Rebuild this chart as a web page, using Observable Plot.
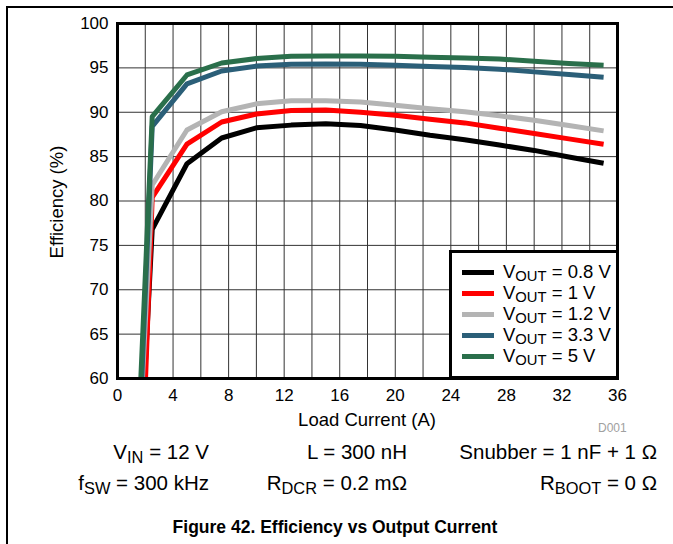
<!DOCTYPE html>
<html><head><meta charset="utf-8">
<script src="https://cdn.jsdelivr.net/npm/d3@7"></script>
<script src="https://cdn.jsdelivr.net/npm/@observablehq/plot@0.6"></script>
<style>
body{margin:0;background:#fff;font-family:"Liberation Sans",Arial,sans-serif;}
#wrap{position:relative;width:673px;height:544px;overflow:hidden;background:#fff;}
#border{position:absolute;left:6px;top:6px;width:700px;height:600px;border-left:2px solid #000;border-top:2px solid #000;}
.t{position:absolute;font-size:17px;color:#000;white-space:nowrap;line-height:1;}
.r{transform:translateY(-50%);font-size:20.5px;}
sub{font-size:0.8em;vertical-align:-0.25em;line-height:0;}
#legend{position:absolute;left:449px;top:250px;width:170px;height:129px;box-sizing:border-box;border:3px solid #000;background:#fff;}
.sw{position:absolute;left:10px;width:32px;height:5px;}
.lt{position:absolute;left:51px;font-size:18.5px;white-space:nowrap;line-height:1;transform:translateY(-50%);}
</style></head><body>
<div id="wrap"><div id="border"></div></div>
<script>
// Data
const current = [2.5, 5, 7.5, 10, 12.5, 15, 17.5, 20, 22.5, 25, 27.5, 30, 32.5, 35];
const eff08 = [76.8, 84.2, 87.1, 88.25, 88.55, 88.7, 88.5, 88.0, 87.4, 86.9, 86.3, 85.7, 84.95, 84.25];
const eff1  = [80.4, 86.4, 88.9, 89.8, 90.2, 90.25, 90.0, 89.65, 89.2, 88.8, 88.2, 87.6, 87.0, 86.4];
const eff12 = [81.8, 88.0, 90.05, 90.95, 91.3, 91.3, 91.15, 90.8, 90.4, 90.05, 89.6, 89.1, 88.5, 87.9];
const eff33 = [88.4, 93.2, 94.65, 95.2, 95.4, 95.45, 95.4, 95.3, 95.15, 95.05, 94.85, 94.55, 94.25, 93.95];
const eff5  = [89.5, 94.2, 95.55, 96.05, 96.3, 96.35, 96.35, 96.3, 96.2, 96.1, 96.0, 95.75, 95.5, 95.3];
// current at which each curve enters from the 60% bottom edge
const onsetCurrent = [1.95, 2.02, 1.8, 1.75, 1.68];
const onsetEff = 60;
const seriesNames = ["0.8 V", "1 V", "1.2 V", "3.3 V", "5 V"];
const seriesColors = ["#000000", "#ff0000", "#b4b4b4", "#2b5f78", "#2a6f4b"];
const seriesValues = [eff08, eff1, eff12, eff33, eff5];
const xTicks = [0, 4, 8, 12, 16, 20, 24, 28, 32, 36];
const xGrid = [0, 2, 4, 6, 8, 10, 12, 14, 16, 18, 20, 22, 24, 26, 28, 30, 32, 34, 36];
const yTicks = [60, 65, 70, 75, 80, 85, 90, 95, 100];

const seriesRows = seriesValues.map((vals, i) =>
  [{current: onsetCurrent[i], eff: onsetEff}].concat(current.map((c, j) => ({current: c, eff: vals[j]}))));

const plot = Plot.plot({
  width: 673, height: 440,
  marginLeft: 117, marginRight: 56, marginTop: 23, marginBottom: 62,
  style: {fontFamily: "Liberation Sans, Arial, sans-serif", fontSize: "17px", background: "transparent", color: "#000", overflow: "visible"},
  x: {domain: [0, 36]},
  y: {domain: [60, 100]},
  marks: [
    Plot.gridX(xGrid, {stroke: "#333", strokeOpacity: 1, strokeWidth: 1}),
    Plot.gridY(yTicks, {stroke: "#333", strokeOpacity: 1, strokeWidth: 1}),
    ...seriesRows.map((rows, i) => Plot.line(rows, {x: "current", y: "eff", stroke: seriesColors[i], strokeWidth: 5, strokeLinejoin: "round", strokeLinecap: "butt", clip: true})),
    Plot.frame({stroke: "#000", strokeWidth: 3}),
    Plot.axisX(xTicks, {tickSize: 0, tickPadding: 10, label: null, fontSize: 17}),
    Plot.axisY(yTicks, {tickSize: 0, tickPadding: 9, label: null, fontSize: 17})
  ]
});
const wrap = document.getElementById("wrap");
plot.style.position = "absolute";
plot.style.left = "0px";
plot.style.top = "0px";
wrap.appendChild(plot);

function addText(html, css, cls) {
  const d = document.createElement("div");
  d.className = "t " + (cls || "");
  d.innerHTML = html;
  Object.assign(d.style, css);
  wrap.appendChild(d);
  return d;
}
addText("Efficiency (%)", {left: "57px", top: "202px", transform: "translate(-50%,-50%) rotate(-90deg)", fontSize: "18.5px"});
addText("Load Current (A)", {left: "367px", top: "420px", transform: "translate(-50%,-50%)", fontSize: "18.5px"});
addText("D001", {left: "598px", top: "428px", transform: "translateY(-50%)", fontSize: "12px", color: "#a0a0a0"});

addText("V<sub>IN</sub> = 12 V", {right: (673 - 209) + "px", top: "452px"}, "r");
addText("L = 300 nH", {right: (673 - 407) + "px", top: "452px"}, "r");
addText("Snubber = 1 nF + 1 Ω", {right: (673 - 657) + "px", top: "452px"}, "r");
addText("f<sub>SW</sub> = 300 kHz", {right: (673 - 209) + "px", top: "483px"}, "r");
addText("R<sub>DCR</sub> = 0.2 mΩ", {right: (673 - 407) + "px", top: "483px"}, "r");
addText("R<sub>BOOT</sub> = 0 Ω", {right: (673 - 657) + "px", top: "483px"}, "r");
addText("Figure 42. Efficiency vs Output Current", {left: "335px", top: "528px", transform: "translate(-50%,-50%)", fontWeight: "bold", fontSize: "17.5px"});

const legend = document.createElement("div");
legend.id = "legend";
wrap.appendChild(legend);
const rowY = [19, 40, 61, 82, 103];
seriesNames.forEach((name, i) => {
  const sw = document.createElement("div");
  sw.className = "sw";
  sw.style.top = (rowY[i] - 2.5) + "px";
  sw.style.background = seriesColors[i];
  legend.appendChild(sw);
  const lt = document.createElement("div");
  lt.className = "lt";
  lt.style.top = rowY[i] + "px";
  lt.innerHTML = "V<sub>OUT</sub> = " + name;
  legend.appendChild(lt);
});
</script>
</body></html>
